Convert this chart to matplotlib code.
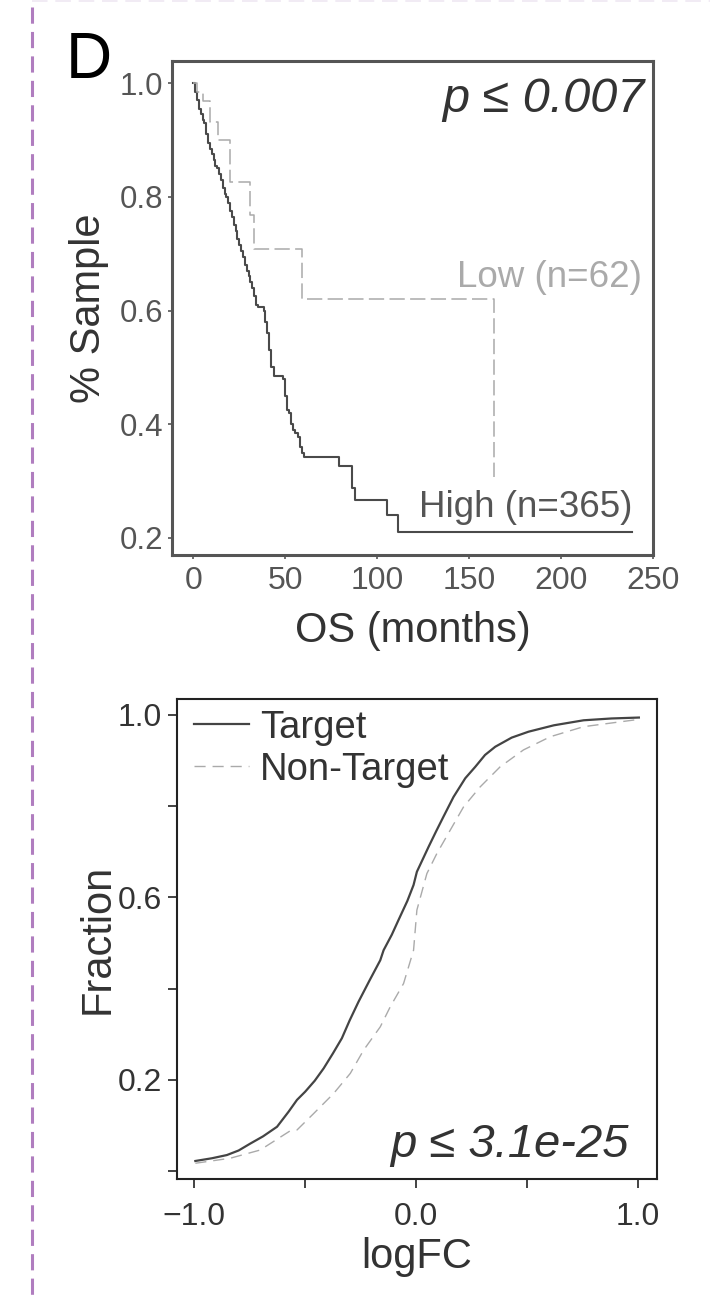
import matplotlib
matplotlib.use("Agg")
import matplotlib.pyplot as plt
from matplotlib.lines import Line2D

plt.rcParams['font.family'] = ['Liberation Sans', 'DejaVu Sans']

# ---------------- data: Kaplan-Meier (OS) ----------------
high_time = [0, 1, 2, 3, 4, 5, 6, 7, 8, 9, 10, 11, 12, 13, 14, 15, 16, 17, 18, 19,
             20, 21, 22, 23, 24, 25, 26, 27, 28, 29, 30, 31, 32, 33, 34, 35, 38.5,
             39, 40, 41, 42, 44, 49, 50, 51, 52, 53, 54, 55, 57, 58, 59, 60, 79,
             86, 88, 105, 111, 238.5]
high_surv = [1.0, 0.985, 0.97, 0.955, 0.945, 0.935, 0.93, 0.91, 0.895, 0.885, 0.875,
             0.865, 0.855, 0.85, 0.84, 0.83, 0.815, 0.805, 0.80, 0.79, 0.775, 0.765,
             0.75, 0.74, 0.725, 0.715, 0.705, 0.695, 0.68, 0.67, 0.66, 0.65, 0.64,
             0.625, 0.61, 0.607, 0.60, 0.58, 0.56, 0.53, 0.50, 0.485, 0.48, 0.45,
             0.425, 0.42, 0.40, 0.39, 0.385, 0.378, 0.36, 0.35, 0.343, 0.327, 0.288,
             0.267, 0.241, 0.210, 0.210]
low_time = [0, 2, 5.4, 9.1, 13.6, 20, 30.8, 33, 59.3, 163.2]
low_surv = [1.0, 0.985, 0.968, 0.932, 0.90, 0.827, 0.768, 0.709, 0.621, 0.308]

km_xticks = [0, 50, 100, 150, 200, 250]
km_yticks = [0.2, 0.4, 0.6, 0.8, 1.0]
km_ytick_labels = ["0.2", "0.4", "0.6", "0.8", "1.0"]

# ---------------- data: cumulative fraction (logFC) ----------------
target_x = [-0.995, -0.92, -0.853, -0.80, -0.748, -0.69, -0.627, -0.575, -0.537, -0.5,
            -0.457, -0.417, -0.375, -0.335, -0.30, -0.26, -0.21, -0.162, -0.147,
            -0.11, -0.08, -0.04, -0.012, 0.003, 0.03, 0.056, 0.09, 0.123, 0.168,
            0.221, 0.266, 0.31, 0.356, 0.43, 0.506, 0.62, 0.754, 0.88, 1.003]
target_y = [0.022, 0.028, 0.035, 0.045, 0.060, 0.076, 0.097, 0.130, 0.156, 0.174,
            0.198, 0.225, 0.258, 0.291, 0.330, 0.371, 0.418, 0.462, 0.484, 0.518,
            0.550, 0.592, 0.627, 0.656, 0.684, 0.711, 0.745, 0.777, 0.820, 0.861,
            0.886, 0.912, 0.930, 0.950, 0.963, 0.977, 0.988, 0.992, 0.994]
nontarget_x = [-0.995, -0.838, -0.703, -0.568, -0.537, -0.462, -0.417, -0.372,
               -0.297, -0.237, -0.162, -0.117, -0.057, -0.012, 0.003, 0.048, 0.093,
               0.153, 0.213, 0.288, 0.378, 0.483, 0.604, 0.754, 1.003]
nontarget_y = [0.017, 0.028, 0.046, 0.088, 0.09, 0.126, 0.148, 0.170, 0.214, 0.265,
               0.316, 0.36, 0.411, 0.484, 0.572, 0.652, 0.696, 0.747, 0.798, 0.842,
               0.886, 0.923, 0.952, 0.974, 0.990]

cdf_xticks = [-1.0, -0.5, 0.0, 0.5, 1.0]
cdf_xtick_labels = ["\u22121.0", "", "0.0", "", "1.0"]
cdf_yticks = [0.0, 0.2, 0.4, 0.6, 0.8, 1.0]
cdf_ytick_labels = ["", "0.2", "", "0.6", "", "1.0"]

W, H = 710, 1298
fig = plt.figure(figsize=(W / 100, H / 100), dpi=100)

def fx(px):
    return px / W

def fy(py):
    return 1 - py / H

# ---------------- panel decorations ----------------
purple = "#b07dbf"
fig.add_artist(Line2D([fx(31.7), fx(31.7)], [fy(6.7), fy(1298)], transform=fig.transFigure,
                      color=purple, lw=2.2, dashes=(5.3, 2.7), solid_capstyle='butt'))
fig.add_artist(Line2D([fx(32), fx(710)], [fy(1.2), fy(1.2)], transform=fig.transFigure,
                      color="#f1ebf4", lw=1.4, dashes=(8, 4)))
fig.text(fx(66), fy(78), "D", fontsize=46, color="black", ha="left", va="baseline")

# ---------------- top: KM plot ----------------
ax1 = fig.add_axes([fx(171.7), fy(555), fx(653.3 - 171.7), (555 - 61) / H])
ax1.step(high_time, high_surv, where="post", color="#4a4a4a", lw=1.5)
ax1.step(low_time, low_surv, where="post", color="#aaaaaa", lw=1.1, dashes=(10, 3.5))
ax1.set_xlim(-11.75, 250)
ax1.set_ylim(0.170, 1.039)
ax1.set_xticks(km_xticks)
ax1.set_xticklabels([str(t) for t in km_xticks])
ax1.set_yticks(km_yticks)
ax1.set_yticklabels(km_ytick_labels)
for s in ax1.spines.values():
    s.set_color("#555555")
    s.set_linewidth(2.2)
ax1.tick_params(axis="both", colors="#555555", labelcolor="#555555", length=3, width=1.2,
                direction="out")
ax1.tick_params(axis="x", labelsize=23, pad=5)
ax1.tick_params(axis="y", labelsize=22.5, pad=3)
ax1.set_xlabel("OS (months)", fontsize=30, color="#333333", labelpad=11)
ax1.set_ylabel("% Sample", fontsize=30, color="#333333", labelpad=8)
ax1.text(245.2, 0.95, "p \u2264 0.007", fontsize=35, style="italic", color="#333333",
         ha="right", va="baseline")
ax1.text(243.6, 0.642, "Low (n=62)", fontsize=26.5, color="#aaaaaa", ha="right",
         va="baseline")
ax1.text(238.5, 0.2376, "High (n=365)", fontsize=26.5, color="#555555", ha="right",
         va="baseline")

# ---------------- bottom: CDF plot ----------------
ax2 = fig.add_axes([fx(176.7), fy(1179), fx(657.3 - 176.7), (1179 - 699.3) / H])
ax2.plot(target_x, target_y, color="#444444", lw=1.6, label="Target")
ax2.plot(nontarget_x, nontarget_y, color="#aaaaaa", lw=1.0, dashes=(8, 5),
         label="Non-Target")
ax2.set_xlim(-1.079, 1.086)
ax2.set_ylim(-0.0175, 1.034)
ax2.set_xticks(cdf_xticks)
ax2.set_xticklabels(cdf_xtick_labels)
ax2.set_yticks(cdf_yticks)
ax2.set_yticklabels(cdf_ytick_labels)
for s in ax2.spines.values():
    s.set_color("#222222")
    s.set_linewidth(1.5)
ax2.tick_params(axis="both", colors="#222222", labelcolor="#333333", length=6.5,
                width=1.2, direction="out", labelsize=23)
ax2.tick_params(axis="x", pad=10)
ax2.tick_params(axis="y", pad=4)
ax2.set_xlabel("logFC", fontsize=30, color="#333333", labelpad=4)
ax2.set_ylabel("Fraction", fontsize=30, color="#333333", labelpad=0)
ax2.text(0.956, 0.031, "p \u2264 3.1e-25", fontsize=34, style="italic", color="#333333",
         ha="right", va="baseline")
leg = ax2.legend(loc="upper left", bbox_to_anchor=(0.035, 0.978), frameon=False,
                 fontsize=27.5, handlelength=1.45, handletextpad=0.3, labelspacing=0.15,
                 borderpad=0, borderaxespad=0)
for t in leg.get_texts():
    t.set_color("#333333")

fig.savefig("out.png", dpi=100)
